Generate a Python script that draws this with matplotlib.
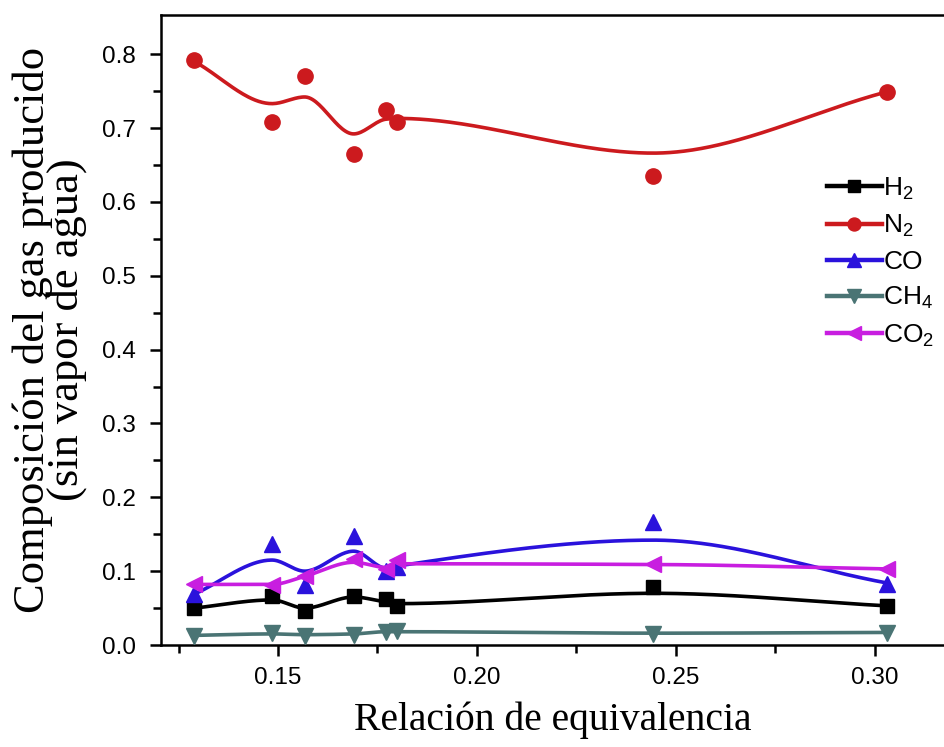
import numpy as np
import matplotlib
matplotlib.use("Agg")
import matplotlib.pyplot as plt
from matplotlib.lines import Line2D

plt.rcParams['font.family'] = ['Liberation Sans', 'DejaVu Sans']
plt.rcParams['mathtext.default'] = 'regular'

# ---- data ----
er = [0.129, 0.1485, 0.1567, 0.169, 0.1772, 0.180, 0.2443, 0.303]

h2 = [0.050, 0.066, 0.046, 0.066, 0.062, 0.053, 0.078, 0.053]
n2 = [0.792, 0.708, 0.770, 0.665, 0.724, 0.708, 0.635, 0.749]
co = [0.069, 0.137, 0.081, 0.147, 0.100, 0.105, 0.166, 0.082]
ch4 = [0.012, 0.016, 0.012, 0.014, 0.018, 0.019, 0.015, 0.016]
co2 = [0.082, 0.081, 0.093, 0.116, 0.103, 0.115, 0.109, 0.103]

# smoothed fit curve values at the same x
fit_h2 = [0.050, 0.061, 0.050, 0.065, 0.058, 0.056, 0.070, 0.053]
fit_n2 = [0.790, 0.733, 0.742, 0.692, 0.712, 0.713, 0.666, 0.749]
fit_co = [0.069, 0.115, 0.100, 0.127, 0.104, 0.107, 0.142, 0.084]
fit_ch4 = [0.013, 0.015, 0.014, 0.015, 0.018, 0.018, 0.016, 0.017]
fit_co2 = [0.082, 0.082, 0.093, 0.112, 0.105, 0.110, 0.109, 0.103]

labels = ['H$_2$', 'N$_2$', 'CO', 'CH$_4$', 'CO$_2$']
colors = ['#000000', '#cc1a1e', '#2a12dc', '#4a7474', '#c81ee0']
markers = ['s', 'o', '^', 'v', '<']
msizes = [9.5, 11, 11.5, 11.5, 11.5]
xticks = [0.15, 0.20, 0.25, 0.30]
yticks = [0.0, 0.1, 0.2, 0.3, 0.4, 0.5, 0.6, 0.7, 0.8]


def pchip(x, y, n=400):
    x = np.asarray(x, float)
    y = np.asarray(y, float)
    h = np.diff(x)
    d = np.diff(y) / h
    k = len(x)
    m = np.zeros(k)
    for i in range(1, k - 1):
        if d[i - 1] * d[i] > 0:
            w1 = 2 * h[i] + h[i - 1]
            w2 = h[i] + 2 * h[i - 1]
            m[i] = (w1 + w2) / (w1 / d[i - 1] + w2 / d[i])
    m[0] = d[0]
    m[-1] = d[-1]
    xs = np.linspace(x[0], x[-1], n)
    idx = np.clip(np.searchsorted(x, xs) - 1, 0, k - 2)
    hi = h[idx]
    t = (xs - x[idx]) / hi
    h00 = 2 * t ** 3 - 3 * t ** 2 + 1
    h10 = t ** 3 - 2 * t ** 2 + t
    h01 = -2 * t ** 3 + 3 * t ** 2
    h11 = t ** 3 - t ** 2
    ys = h00 * y[idx] + h10 * hi * m[idx] + h01 * y[idx + 1] + h11 * hi * m[idx + 1]
    return xs, ys


fig = plt.figure(figsize=(9.45, 7.47), dpi=100)
ax = fig.add_axes([161 / 945, 1 - 645 / 747, 1 - 161 / 945, (645 - 15) / 747])

series = [h2, n2, co, ch4, co2]
fits = [fit_h2, fit_n2, fit_co, fit_ch4, fit_co2]
handles = []
for s, f, lab, col, mk, ms in zip(series, fits, labels, colors, markers, msizes):
    xs, ys = pchip(er, f)
    ax.plot(xs, ys, color=col, lw=2.6, zorder=2)
    ax.plot(er, s, linestyle='none', marker=mk, color=col, markersize=ms, zorder=3)
    handles.append(Line2D([], [], color=col, lw=3.2, marker=mk, markersize=ms * 0.85, label=lab))

ax.set_xlim(0.1206, 0.3176)
ax.set_ylim(0.0, 0.853)
ax.set_xticks(xticks)
ax.set_xticklabels([f"{v:.2f}" for v in xticks])
ax.set_xticks([0.125, 0.175, 0.225, 0.275], minor=True)
ax.set_yticks(yticks)
ax.set_yticklabels([f"{v:.1f}" for v in yticks])
ax.set_yticks([0.05 + 0.1 * i for i in range(8)], minor=True)

ax.spines['right'].set_visible(False)
for sp in ['left', 'bottom', 'top']:
    ax.spines[sp].set_linewidth(1.8)
ax.tick_params(axis='both', which='major', direction='out', length=8, width=1.8,
               labelsize=17.5, pad=8)
ax.tick_params(axis='y', which='major', pad=10)
ax.tick_params(axis='both', which='minor', direction='out', length=5.5, width=1.8)

ax.set_xlabel('Relación de equivalencia', family=['Liberation Serif', 'DejaVu Serif'],
              fontsize=28.5)
ax.xaxis.set_label_coords(0.5, -0.09)
ax.set_ylabel('Composición del gas producido\n(sin vapor de agua)',
              family=['Liberation Serif', 'DejaVu Serif'], fontsize=32,
              linespacing=0.8)
ax.yaxis.set_label_coords(-0.094, 0.5)

leg = ax.legend(handles=handles, loc='upper left', bbox_to_anchor=(0.849, 0.745),
                frameon=False, fontsize=19, handlelength=2.1, handletextpad=0.05,
                labelspacing=0.42, borderaxespad=0, borderpad=0)

fig.savefig('out.png', dpi=100)
